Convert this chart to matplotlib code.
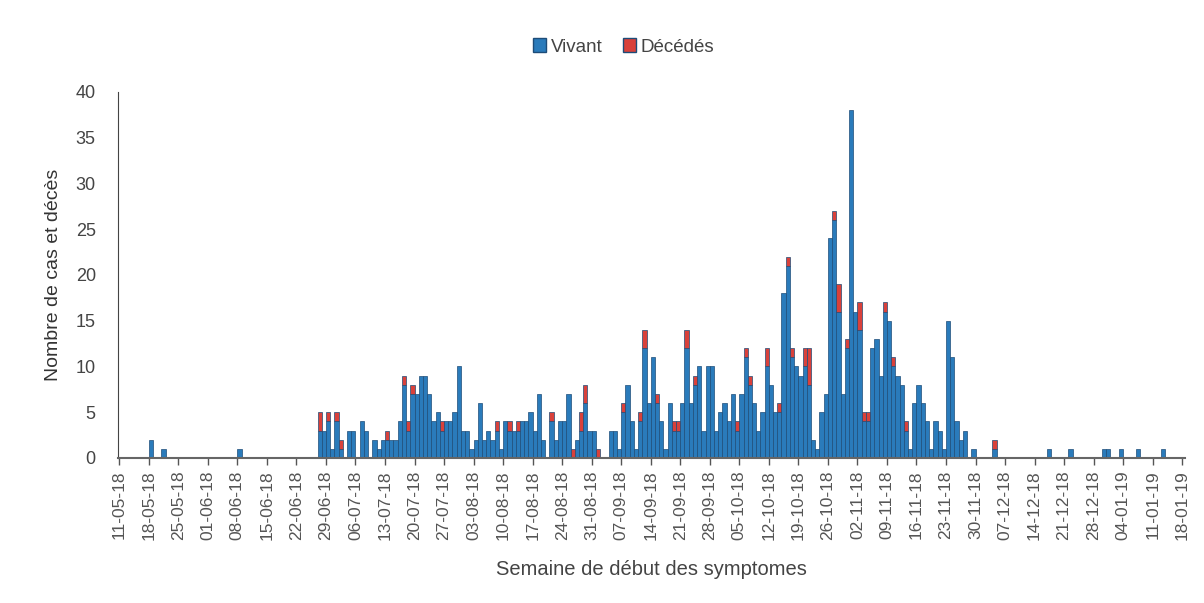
import numpy as np
import matplotlib.pyplot as plt
from matplotlib.patches import Patch

# Jours depuis le 11-05-18 (seuls les jours avec des cas)
jours = [7, 10, 28, 47, 48, 49, 50, 51, 52, 54, 55, 57, 58, 60, 61, 62, 63, 64, 65, 66,
         67, 68, 69, 70, 71, 72, 73, 74, 75, 76, 77, 78, 79, 80, 81, 82, 83, 84, 85, 86,
         87, 88, 89, 90, 91, 92, 93, 94, 95, 96, 97, 98, 99, 100, 102, 103, 104, 105, 106, 107,
         108, 109, 110, 111, 112, 113, 116, 117, 118, 119, 120, 121, 122, 123, 124, 125, 126, 127, 128, 129,
         130, 131, 132, 133, 134, 135, 136, 137, 138, 139, 140, 141, 142, 143, 144, 145, 146, 147, 148, 149,
         150, 151, 152, 153, 154, 155, 156, 157, 158, 159, 160, 161, 162, 163, 164, 165, 166, 167, 168, 169,
         170, 171, 172, 173, 174, 175, 176, 177, 178, 179, 180, 181, 182, 183, 184, 185, 186, 187, 188, 189,
         190, 191, 192, 193, 194, 195, 196, 197, 198, 199, 200, 202, 207, 220, 225, 233, 234, 237, 241, 247]

vivant = [2, 1, 1, 3, 3, 4, 1, 4, 1, 3, 3, 4, 3, 2, 1, 2, 2, 2, 2, 4,
          8, 3, 7, 7, 9, 9, 7, 4, 5, 3, 4, 4, 5, 10, 3, 3, 1, 2, 6, 2,
          3, 2, 3, 1, 4, 3, 3, 3, 4, 4, 5, 3, 7, 2, 4, 2, 4, 4, 7, 0,
          2, 3, 6, 3, 3, 0, 3, 3, 1, 5, 8, 4, 1, 4, 12, 6, 11, 6, 4, 1,
          6, 3, 3, 6, 12, 6, 8, 10, 3, 10, 10, 3, 5, 6, 4, 7, 3, 7, 11, 8,
          6, 3, 5, 10, 8, 5, 5, 18, 21, 11, 10, 9, 10, 8, 2, 1, 5, 7, 24, 26,
          16, 7, 12, 38, 16, 14, 4, 4, 12, 13, 9, 16, 15, 10, 9, 8, 3, 1, 6, 8,
          6, 4, 1, 4, 3, 1, 15, 11, 4, 2, 3, 1, 1, 1, 1, 1, 1, 1, 1, 1]

decedes = [0, 0, 0, 2, 0, 1, 0, 1, 1, 0, 0, 0, 0, 0, 0, 0, 1, 0, 0, 0,
           1, 1, 1, 0, 0, 0, 0, 0, 0, 1, 0, 0, 0, 0, 0, 0, 0, 0, 0, 0,
           0, 0, 1, 0, 0, 1, 0, 1, 0, 0, 0, 0, 0, 0, 1, 0, 0, 0, 0, 1,
           0, 2, 2, 0, 0, 1, 0, 0, 0, 1, 0, 0, 0, 1, 2, 0, 0, 1, 0, 0,
           0, 1, 1, 0, 2, 0, 1, 0, 0, 0, 0, 0, 0, 0, 0, 0, 1, 0, 1, 1,
           0, 0, 0, 2, 0, 0, 1, 0, 1, 1, 0, 0, 2, 4, 0, 0, 0, 0, 0, 1,
           3, 0, 1, 0, 0, 3, 1, 1, 0, 0, 0, 1, 0, 1, 0, 0, 1, 0, 0, 0,
           0, 0, 0, 0, 0, 0, 0, 0, 0, 0, 0, 0, 1, 0, 0, 0, 0, 0, 0, 0]

semaines = ['11-05-18', '18-05-18', '25-05-18', '01-06-18', '08-06-18', '15-06-18', '22-06-18',
            '29-06-18', '06-07-18', '13-07-18', '20-07-18', '27-07-18', '03-08-18', '10-08-18',
            '17-08-18', '24-08-18', '31-08-18', '07-09-18', '14-09-18', '21-09-18', '28-09-18',
            '05-10-18', '12-10-18', '19-10-18', '26-10-18', '02-11-18', '09-11-18', '16-11-18',
            '23-11-18', '30-11-18', '07-12-18', '14-12-18', '21-12-18', '28-12-18', '04-01-19',
            '11-01-19', '18-01-19']

bleu = '#2a7bbb'
rouge = '#d9413b'
bord = '#1d4c78'

plt.rcParams['font.family'] = ['Liberation Sans', 'DejaVu Sans']

jours = np.array(jours)
vivant = np.array(vivant)
decedes = np.array(decedes)

fig = plt.figure(figsize=(12.04, 6.03), dpi=100)
ax = fig.add_axes([0.098, 0.2405, 0.886, 0.607])

ax.bar(jours, vivant, width=1, align='edge', color=bleu, edgecolor=bord, linewidth=0.5)
m = decedes > 0
ax.bar(jours[m], decedes[m], bottom=vivant[m], width=1, align='edge',
       color=rouge, edgecolor=bord, linewidth=0.5)

ax.set_xlim(-0.3, 252.6)
ax.set_ylim(0, 40)
ax.set_yticks(range(0, 41, 5))
ax.tick_params(axis='y', length=0, pad=16, labelsize=13, colors='#444444')
ax.set_xticks(range(0, 7 * len(semaines), 7))
ax.set_xticklabels(semaines, rotation=90)
ax.tick_params(axis='x', length=5, width=1, direction='out', labelsize=12.5,
               colors='#555555', pad=4)

for s in ['top', 'right']:
    ax.spines[s].set_visible(False)
ax.spines['left'].set_color('#444444')
ax.spines['bottom'].set_color('#666666')
ax.spines['bottom'].set_linewidth(1.5)

ax.set_ylabel('Nombre de cas et décès', fontsize=14, color='#333333', labelpad=10)
ax.set_xlabel('Semaine de début des symptomes', fontsize=14.5, color='#444444', labelpad=14)

poignees = [Patch(facecolor=bleu, edgecolor=bord, label='Vivant'),
            Patch(facecolor=rouge, edgecolor=bord, label='Décédés')]
fig.legend(handles=poignees, loc='center', bbox_to_anchor=(0.518, 0.922), ncol=2,
           frameon=False, fontsize=13.5, handlelength=0.7, handleheight=0.7,
           handletextpad=0.25, columnspacing=1.1, labelcolor='#444444')

fig.savefig('out.png', dpi=100, facecolor='white')
